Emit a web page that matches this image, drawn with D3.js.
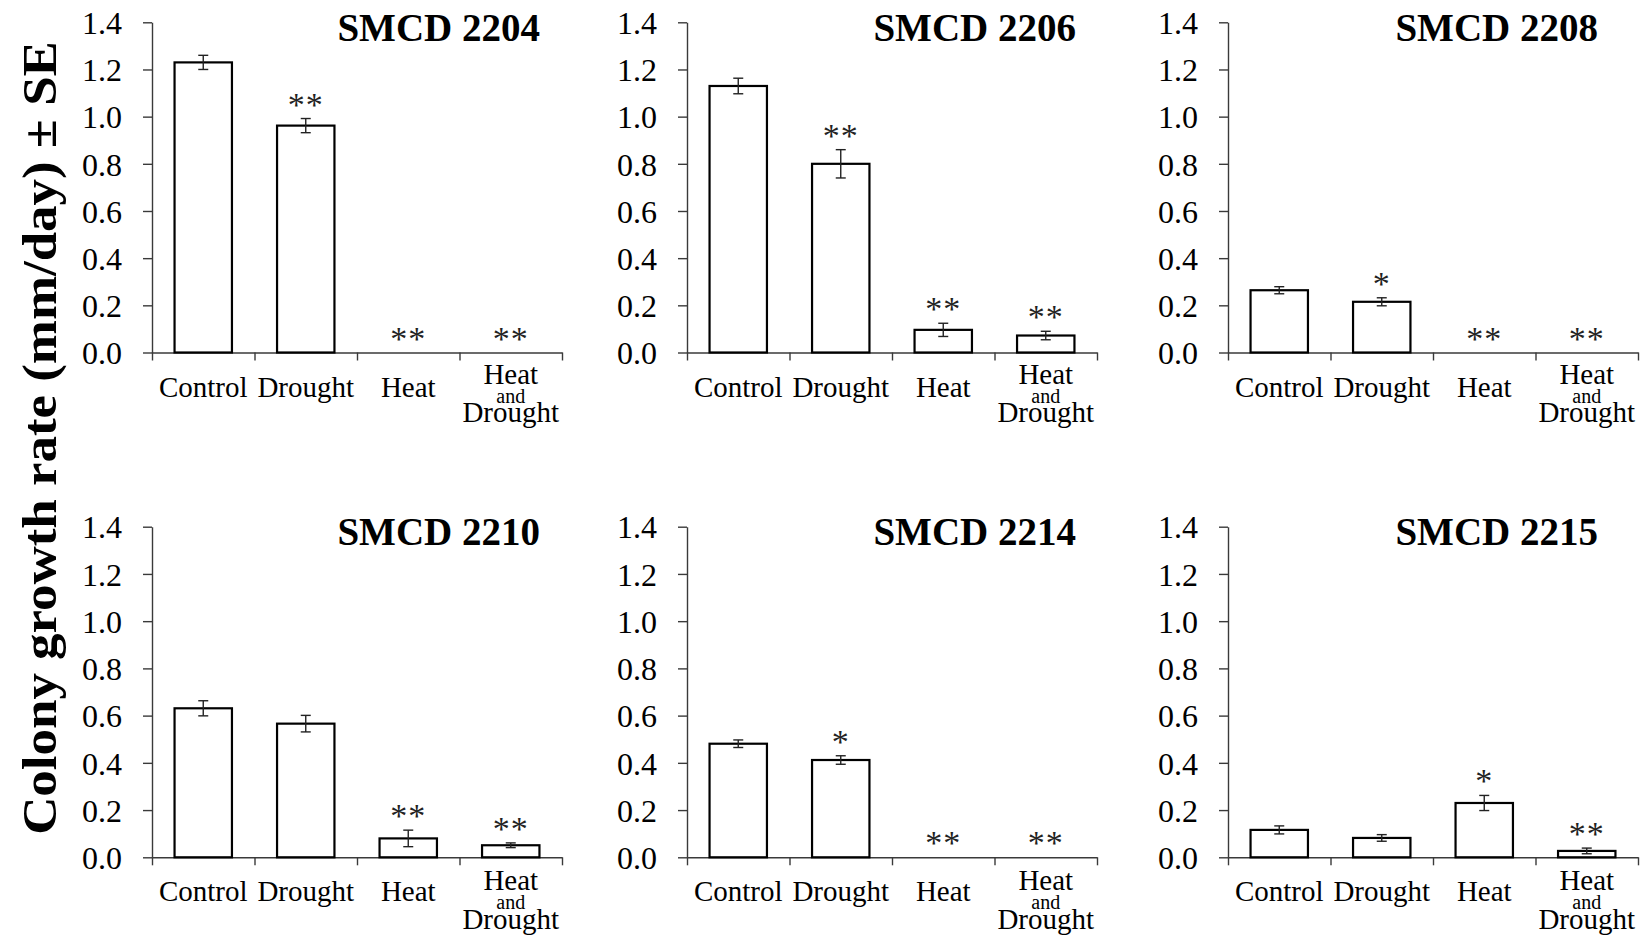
<!DOCTYPE html>
<html>
<head>
<meta charset="utf-8">
<script src="https://cdn.jsdelivr.net/npm/d3@7"></script>
<style>
  body { margin: 0; background: #fff; }
  svg text { font-family: "Liberation Serif", "Times New Roman", serif; fill: #000; }
</style>
</head>
<body>
<div id="container"></div>
<script>
/* DATA */
const categories = ["Control", "Drought", "Heat", "Heat and Drought"];
const strains = ["SMCD 2204", "SMCD 2206", "SMCD 2208", "SMCD 2210", "SMCD 2214", "SMCD 2215"];
const yTicks = [0, 0.2, 0.4, 0.6, 0.8, 1.0, 1.2, 1.4];

const means = [
  [1.230, 0.962, 0, 0],
  [1.130, 0.800, 0.096, 0.072],
  [0.264, 0.215, 0, 0],
  [0.631, 0.566, 0.080, 0.051],
  [0.481, 0.412, 0, 0],
  [0.116, 0.082, 0.230, 0.027]
];
const errors = [
  [0.030, 0.030, 0, 0],
  [0.033, 0.060, 0.028, 0.018],
  [0.015, 0.017, 0, 0],
  [0.032, 0.035, 0.035, 0.010],
  [0.016, 0.018, 0, 0],
  [0.017, 0.014, 0.032, 0.012]
];
const stars = [
  ["", "**", "**", "**"],
  ["", "**", "**", "**"],
  ["", "*", "**", "**"],
  ["", "", "**", "**"],
  ["", "*", "**", "**"],
  ["", "", "*", "**"]
];

/* LAYOUT */
const width = 1648, height = 939;
const colX = [152, 687, 1228];
const rowTop = [22.3, 526.7];    // pixel of 1.4
const rowBottom = [352.5, 857.3]; // pixel of 0
const plotW = 410;
const titleRight = [388, 389, 370];

const svg = d3.select("#container")
  .append("svg")
  .attr("width", width)
  .attr("height", height);

// shared y title
svg.append("text")
  .attr("transform", "translate(56,438) rotate(-90) scale(1.08,1)")
  .attr("text-anchor", "middle")
  .style("font-size", "49px")
  .style("font-weight", "bold")
  .text("Colony growth rate (mm/day) \u00B1 SE");

strains.forEach((name, i) => {
  const col = i % 3, row = Math.floor(i / 3);
  const x0 = colX[col];

  const g = svg.append("g")
    .attr("transform", `translate(${x0},0)`);

  /* SCALES */
  const yScale = d3.scaleLinear()
    .domain([0, 1.4])
    .range([rowBottom[row], rowTop[row]]);

  const xScale = d3.scaleBand()
    .domain(categories)
    .range([0, plotW])
    .paddingInner(0.44)
    .paddingOuter(0.22);

  const edgeScale = d3.scaleLinear()
    .domain([0, categories.length])
    .range([0, plotW]);

  /* AXES */
  const yAxis = d3.axisLeft(yScale)
    .tickValues(yTicks)
    .tickFormat(d3.format(".1f"))
    .tickSize(9)
    .tickSizeOuter(0)
    .tickPadding(21);

  const ya = g.append("g").call(yAxis);
  ya.selectAll("text").style("font-size", "32px").attr("dy", "0.35em");

  const xAxis = d3.axisBottom(edgeScale)
    .tickValues(d3.range(categories.length + 1))
    .tickFormat("")
    .tickSize(8)
    .tickSizeOuter(0);

  const xa = g.append("g")
    .attr("transform", `translate(0,${rowBottom[row]})`)
    .call(xAxis);

  [ya, xa].forEach(a => {
    a.select(".domain").attr("stroke", "#3a3a3a").attr("stroke-width", 1.4);
    a.selectAll(".tick line").attr("stroke", "#3a3a3a").attr("stroke-width", 1.4);
  });

  // category labels
  const labels = g.append("g")
    .selectAll("text")
    .data(categories)
    .join("text")
    .attr("text-anchor", "middle")
    .attr("x", d => xScale(d) + xScale.bandwidth() / 2);

  labels.each(function (d) {
    const t = d3.select(this);
    const cx = xScale(d) + xScale.bandwidth() / 2;
    const base = rowBottom[row];
    if (d === "Heat and Drought") {
      t.append("tspan").attr("x", cx).attr("y", base + 31.5 + row).style("font-size", "29px").text("Heat");
      t.append("tspan").attr("x", cx).attr("y", base + 50.5 + row * 1.5).style("font-size", "20px").text("and");
      t.append("tspan").attr("x", cx).attr("y", base + 69.5 + row * 2).style("font-size", "29px").text("Drought");
    } else {
      t.attr("y", base + 44).style("font-size", "29px").text(d);
    }
  });

  const rows = categories.map((c, j) => ({
    cat: c, mean: means[i][j], se: errors[i][j], star: stars[i][j]
  }));

  /* BARS */
  g.selectAll("rect.bar")
    .data(rows.filter(d => d.mean > 0))
    .join("rect")
    .attr("class", "bar")
    .attr("x", d => xScale(d.cat))
    .attr("width", xScale.bandwidth())
    .attr("y", d => yScale(d.mean))
    .attr("height", d => yScale(0) - yScale(d.mean))
    .attr("fill", "#fff")
    .attr("stroke", "#000")
    .attr("stroke-width", 2.2);

  /* ERROR BARS */
  const eb = g.selectAll("g.err")
    .data(rows.filter(d => d.se > 0))
    .join("g")
    .attr("class", "err")
    .attr("stroke", "#222")
    .attr("stroke-width", 1.4);

  const cx = d => xScale(d.cat) + xScale.bandwidth() / 2;
  eb.append("line")
    .attr("x1", cx).attr("x2", cx)
    .attr("y1", d => yScale(d.mean + d.se))
    .attr("y2", d => yScale(d.mean - d.se));
  eb.append("line")
    .attr("x1", d => cx(d) - 5).attr("x2", d => cx(d) + 5)
    .attr("y1", d => yScale(d.mean + d.se))
    .attr("y2", d => yScale(d.mean + d.se));
  eb.append("line")
    .attr("x1", d => cx(d) - 5).attr("x2", d => cx(d) + 5)
    .attr("y1", d => yScale(d.mean - d.se))
    .attr("y2", d => yScale(d.mean - d.se));

  /* SIGNIFICANCE STARS */
  g.selectAll("text.star")
    .data(rows.filter(d => d.star))
    .join("text")
    .attr("class", "star")
    .attr("text-anchor", "middle")
    .attr("x", cx)
    .attr("y", d => yScale(d.mean + d.se) - 3)
    .style("font-size", "34px")
    .style("letter-spacing", "1px")
    .style("fill", "#222")
    .text(d => d.star);

  /* PANEL TITLE */
  g.append("text")
    .attr("x", titleRight[col])
    .attr("y", rowTop[row] + 18.5)
    .attr("text-anchor", "end")
    .style("font-size", "39px")
    .style("font-weight", "bold")
    .text(name);
});
</script>
</body>
</html>
